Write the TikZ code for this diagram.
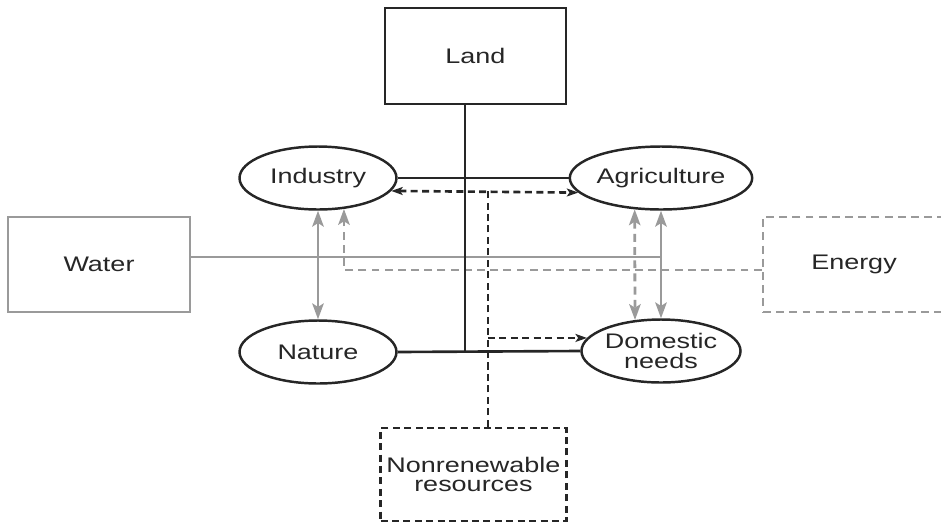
\documentclass[tikz,border=0pt]{standalone}
\usepackage{fontspec}
\setmainfont[FakeStretch=1.28]{Liberation Sans}
\usetikzlibrary{arrows.meta,shapes.geometric}
\definecolor{ink}{HTML}{262626}
\definecolor{pale}{HTML}{9A9A9A}

\begin{document}
\begin{tikzpicture}[x=0.02cm,y=-0.02cm,>={Stealth[length=9pt,width=6.5pt,inset=2pt]}]
\tikzstyle{every node}=[font=\fontsize{12}{11.2}\selectfont,text=ink,align=center]
\tikzstyle{sector}=[draw=ink,ellipse,line width=1.4pt,minimum width=3.14cm,minimum height=1.26cm,inner sep=0pt]
\tikzstyle{res}=[rectangle,line width=1.6pt,minimum width=3.64cm,minimum height=1.9cm]
\tikzstyle{link}=[ink,line width=1.5pt]
\tikzstyle{flow}=[pale,line width=1.6pt]
\tikzstyle{inkdash}=[dash pattern=on 4pt off 2.5pt]
\tikzstyle{paledash}=[dash pattern=on 4.5pt off 3pt]
\tikzstyle{tip}=[>={Stealth[length=6.5pt,width=4.5pt,inset=1.5pt]}]
\useasboundingbox (0,0) rectangle (941,525);

% resources
\node[res,draw=ink,minimum width=3.62cm,minimum height=1.92cm] (land) at (475.5,56) {Land};
\node[res,draw=pale] (water) at (99,264.5) {Water};
\node[res,draw=pale,paledash] (energy) at (854,264.5) {Energy};
\node[res,draw=ink,inkdash,minimum width=3.66cm,minimum height=1.86cm] (nonrenew) at (473.5,474.5) {Nonrenewable\\resources};

% sectors
\node[sector] (industry) at (318,178) {Industry};
\node[sector] (agri) at (661,178) {Agriculture};
\node[sector] (nature) at (318,352) {Nature};
\node[sector] (domestic) at (661,351) {Domestic\\needs};

\coordinate (hub) at (465,352);
\coordinate (wj) at (660,257);
\coordinate (ej) at (343,270);
\coordinate (nr) at (488,191);

% water and energy
\draw[flow] (water.east |- wj) -- (wj);
\draw[flow,<->] (industry.south) -- (nature.north);
\draw[flow,<->] (agri.south) -- (domestic.north);
\draw[flow,paledash,->] (energy.west |- ej) -| (industry.-50);
\draw[flow,paledash,<->] (agri.-130) -- (domestic.130);

% land
\draw[link] (land.south -| hub) -- (hub);
\draw[link] (industry.east) -- (agri.west);
\draw[link] (nature.east) -- (domestic.west);

% nonrenewable resources
\draw[link,inkdash,tip,<->] (industry.-10) -- (agri.190);
\draw[link,inkdash] (nonrenew.north -| nr) -- (nr);
\draw[link,inkdash,tip,->] (domestic.170 -| nr) -- (domestic.170);
\end{tikzpicture}
\end{document}
